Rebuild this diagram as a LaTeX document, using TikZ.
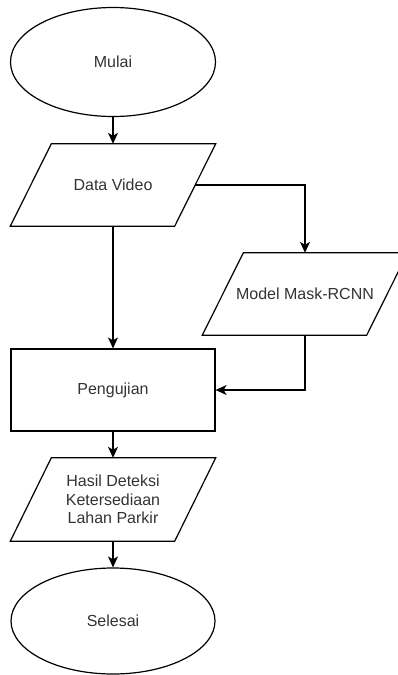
\documentclass[tikz,border=0pt]{standalone}
\usepackage{fontspec}
\setmainfont{Liberation Sans}
\usetikzlibrary{shapes.geometric,arrows.meta,calc}

\tikzset{
  base/.style={font=\fontsize{16}{18.4}\selectfont, text=black!80, align=center, inner sep=0pt},
  terminal/.style={base, ellipse, draw, line width=1.2pt},
  process/.style={base, rectangle, draw, line width=1.2pt, minimum width=204pt, minimum height=82pt},
  % invisible frame for a parallelogram; the slanted outline is drawn separately
  iobox/.style={base, rectangle, minimum width=164pt, minimum height=82pt},
  flow/.style={line width=1.2pt, -{Stealth[length=11pt,width=10pt,inset=3pt]}},
}

% outline of a parallelogram around a named iobox node
\newcommand{\slantbox}[1]{%
  \draw[line width=1.2pt]
    ($(#1.north west)+(20.5pt,0)$) -- ($(#1.north east)+(20.5pt,0)$) --
    ($(#1.south east)+(-20.5pt,0)$) -- ($(#1.south west)+(-20.5pt,0)$) -- cycle;}

\begin{document}
\begin{tikzpicture}[x=1pt,y=-1pt]
  \useasboundingbox (0,0) rectangle (398,675);
  \clip (0,0) rectangle (398,675);

  \node[terminal, minimum width=205pt, minimum height=109pt] (start) at (113,62) {Mulai};
  \node[iobox] (video) at (113,185) {Data Video};
  \slantbox{video}
  \node[iobox] (model) at (305,294) {Model Mask-RCNN};
  \slantbox{model}
  \node[process] (test) at (113,390) {Pengujian};
  \node[iobox, minimum height=83pt] (result) at (113,499.5) {Hasil Deteksi\\Ketersediaan\\Lahan Parkir};
  \slantbox{result}
  \node[terminal, minimum width=204pt, minimum height=106pt] (stop) at (113,621) {Selesai};

  \draw[flow] (start) -- (video);
  \draw[flow] (video) -- (test);
  \draw[flow] (video.east) -| (model.north);
  \draw[flow] (model.south) |- (test.east);
  \draw[flow] (test) -- (result);
  \draw[flow] (result) -- (stop);
\end{tikzpicture}
\end{document}
